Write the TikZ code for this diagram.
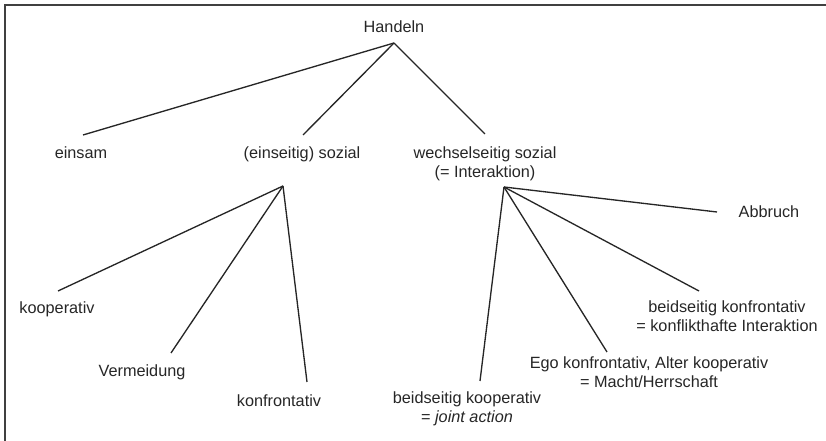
\documentclass[tikz,border=0pt]{standalone}
\usepackage{fontspec}
\setmainfont{Liberation Sans}
\begin{document}
\begin{tikzpicture}[x=0.75pt,y=-0.75pt,
  lbl/.style={inner sep=0pt,align=center,text=black!85,
    font=\fontsize{12.2}{14.2}\selectfont},
  edge/.style={line width=1pt,black!85}]
\useasboundingbox (0,0) rectangle (826,441);
\draw[line width=1.7pt,black!75] (5,441) -- (5,5) -- (826,5);

\node (hand) at (394,27) [lbl] {Handeln};
\node (eins) at (81,153) [lbl] {einsam};
\node (soz) at (302,154) [lbl] {(einseitig) sozial};
\node (wech) at (485,164) [lbl] {wechselseitig sozial\\(= Interaktion)};

\node (koop) at (57,309) [lbl] {kooperativ};
\node (verm) at (142,372) [lbl] {Vermeidung};
\node (konf) at (279,401) [lbl] {konfrontativ};

\node (abbr) at (769,212) [lbl] {Abbruch};
\node (bkonf) at (727,316) [lbl] {beidseitig konfrontativ\\= konflikthafte Interaktion};
\node (ego) at (649,372) [lbl] {Ego konfrontativ, Alter kooperativ\\= Macht/Herrschaft};
\node (bkoop) at (467,409) [lbl] {beidseitig kooperativ\\= \textit{joint action}};

% Verzweigungspunkte
\coordinate (h0) at (394,43);
\coordinate (h1) at (283,186);
\coordinate (h2) at (504,187);

% Enden der Linien
\coordinate (eins-e) at (83,135);
\coordinate (soz-e) at (303,135);
\coordinate (wech-e) at (485,134);
\coordinate (koop-e) at (58,291);
\coordinate (verm-e) at (171,353);
\coordinate (konf-e) at (307,382);
\coordinate (abbr-e) at (717,212);
\coordinate (bkonf-e) at (699,291);
\coordinate (ego-e) at (607,352);
\coordinate (bkoop-e) at (480,381);

\draw[edge] (h0) to (eins-e);
\draw[edge] (h0) to (soz-e);
\draw[edge] (h0) to (wech-e);

\draw[edge] (h1) to (koop-e);
\draw[edge] (h1) to (verm-e);
\draw[edge] (h1) to (konf-e);

\draw[edge] (h2) to (abbr-e);
\draw[edge] (h2) to (bkonf-e);
\draw[edge] (h2) to (ego-e);
\draw[edge] (h2) to (bkoop-e);
\end{tikzpicture}
\end{document}
